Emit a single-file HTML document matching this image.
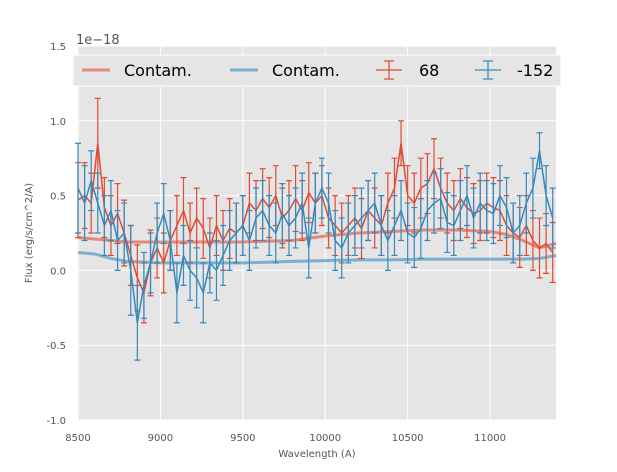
<!DOCTYPE html>
<html><head><meta charset="utf-8"><style>
body{margin:0;background:#fff;}
svg{font-family:"DejaVu Sans","Liberation Sans",sans-serif;}
</style></head><body>
<svg id="chart" width="617" height="467" viewBox="0 0 617 467">
<rect x="78" y="46" width="478" height="374" fill="#e5e5e5"/>
<g id="grid"></g>
<g id="contam"></g>
<g id="series"></g>
<g id="axes"></g>
<text x="76" y="44" font-size="13" fill="#555">1e−18</text>
<text x="317" y="457" font-size="10" fill="#555" text-anchor="middle">Wavelength (A)</text>
<text x="32" y="233" font-size="10" fill="#555" text-anchor="middle" transform="rotate(-90 32 233)">Flux (erg/s/cm^2/A)</text>
<g>
<rect x="73" y="55" width="488" height="31" fill="#e5e5e5" stroke="#fff" stroke-width="1"/>
<g><line x1="82" y1="70" x2="110" y2="70" stroke="#E24A33" stroke-opacity="0.6" stroke-width="3"/><text x="124" y="76" font-size="16" fill="#000">Contam.</text></g>
<g><line x1="230" y1="70" x2="258" y2="70" stroke="#348ABD" stroke-opacity="0.6" stroke-width="3"/><text x="272" y="76" font-size="16" fill="#000">Contam.</text></g>
<g stroke="#E24A33" stroke-width="1.2"><line x1="376" y1="70" x2="402" y2="70"/><line x1="389" y1="61" x2="389" y2="79"/><line x1="384" y1="61" x2="394" y2="61"/><line x1="384" y1="79" x2="394" y2="79"/></g>
<text x="419" y="76" font-size="16" fill="#000">68</text>
<g stroke="#348ABD" stroke-width="1.2"><line x1="475" y1="70" x2="501" y2="70"/><line x1="488" y1="61" x2="488" y2="79"/><line x1="483" y1="61" x2="493" y2="61"/><line x1="483" y1="79" x2="493" y2="79"/></g>
<text x="517" y="76" font-size="16" fill="#000">-152</text>
</g>
</svg>
<script>
const waves=[8500,8540,8580,8620,8660,8700,8740,8780,8820,8860,8900,8940,8980,9020,9060,9100,9140,9180,9220,9260,9300,9340,9380,9420,9460,9500,9540,9580,9620,9660,9700,9740,9780,9820,9860,9900,9940,9980,10020,10060,10100,10140,10180,10220,10260,10300,10340,10380,10420,10460,10500,10540,10580,10620,10660,10700,10740,10780,10820,10860,10900,10940,10980,11020,11060,11100,11140,11180,11220,11260,11300,11340,11380];
const redFlux=[.47,.50,.45,.85,.42,.30,.38,.25,.10,-.05,-.15,.05,.15,.05,.20,.30,.40,.25,.35,.28,.15,.30,.20,.28,.25,.30,.45,.40,.48,.42,.50,.35,.40,.48,.40,.52,.45,.50,.35,.30,.25,.30,.35,.28,.40,.35,.30,.45,.55,.85,.50,.45,.55,.58,.68,.55,.45,.40,.48,.42,.38,.40,.45,.42,.40,.30,.25,.22,.30,.20,.15,.18,.12];
const blueFlux=[.55,.45,.60,.45,.30,.40,.20,.25,.0,-.35,-.10,.05,.25,.38,.20,-.15,.10,.0,-.05,-.15,.05,.0,.10,.20,.25,.30,.20,.35,.40,.30,.25,.38,.30,.35,.45,.15,.45,.55,.45,.20,.15,.25,.30,.35,.40,.45,.30,.20,.30,.40,.25,.22,.28,.40,.45,.48,.32,.30,.40,.50,.35,.45,.40,.38,.50,.42,.25,.30,.45,.55,.80,.50,.35];
const redErr=[.25,.22,.2,.3,.2,.2,.2,.22,.2,.22,.2,.22,.2,.2,.2,.2,.22,.2,.2,.2,.2,.2,.2,.2,.2,.2,.2,.2,.2,.2,.2,.2,.2,.22,.2,.2,.2,.2,.2,.2,.2,.2,.2,.2,.2,.2,.2,.2,.2,.15,.2,.2,.2,.2,.2,.2,.2,.2,.2,.2,.2,.2,.2,.2,.2,.2,.2,.2,.2,.2,.2,.2,.2];
const blueErr=[.3,.25,.2,.2,.2,.2,.2,.2,.3,.25,.22,.2,.2,.2,.2,.2,.2,.2,.2,.2,.2,.2,.2,.2,.2,.2,.2,.2,.2,.2,.2,.2,.2,.2,.2,.2,.2,.2,.2,.2,.2,.2,.2,.2,.2,.2,.2,.2,.2,.2,.2,.2,.2,.2,.2,.2,.2,.2,.2,.2,.2,.2,.2,.2,.2,.2,.2,.2,.2,.2,.12,.2,.2];
const contamWaves=[8500,8600,8700,8800,9000,9500,9800,10000,10200,10400,10600,10800,11000,11100,11200,11300,11400];
const contamRed=[.22,.21,.20,.19,.19,.19,.20,.23,.25,.26,.27,.27,.26,.24,.20,.15,.18];
const contamBlue=[.12,.11,.08,.06,.05,.05,.06,.065,.07,.07,.075,.075,.075,.075,.075,.08,.10];
const xTicks=[8500,9000,9500,10000,10500,11000];
const yTicks=[-1.0,-0.5,0.0,0.5,1.0,1.5];
const X0=78,X1=556,Y0=420,Y1=46,WMIN=8500,WMAX=11400,VMIN=-1,VMAX=1.5;
const sx=w=>X0+(w-WMIN)/(WMAX-WMIN)*(X1-X0);
const sy=v=>Y0-(v-VMIN)/(VMAX-VMIN)*(Y0-Y1);
const NS="http://www.w3.org/2000/svg";
function mk(tag,attrs,parent){const e=document.createElementNS(NS,tag);for(const k in attrs)e.setAttribute(k,attrs[k]);parent.appendChild(e);return e;}
const grid=document.getElementById('grid'),axes=document.getElementById('axes');
xTicks.forEach(t=>{
  const l=mk('line',{x1:sx(t),x2:sx(t),y1:Y1,y2:Y0,stroke:'#fff','stroke-width':1},grid);
  
  
  const tx=mk('text',{x:sx(t),y:Y0+21,'font-size':10,fill:'#555','text-anchor':'middle'},axes);
  tx.textContent=t;
  
  
});
yTicks.forEach(t=>{
  const l=mk('line',{x1:X0,x2:X1,y1:sy(t),y2:sy(t),stroke:'#fff','stroke-width':1},grid);
  
  
  const tx=mk('text',{x:X0-12,y:sy(t)+4,'font-size':10,fill:'#555','text-anchor':'end'},axes);
  tx.textContent=t.toFixed(1);
  
  
});
const cg=document.getElementById('contam');
[[contamRed,'#E24A33','contam-red-line'],[contamBlue,'#348ABD','contam-blue-line']].forEach(([arr,c,n])=>{
  const p=mk('polyline',{points:contamWaves.map((w,i)=>sx(Math.min(w,WMAX))+','+sy(arr[i])).join(' '),fill:'none',stroke:c,'stroke-opacity':0.6,'stroke-width':3},cg);
  
  
});
const sg=document.getElementById('series');
[[redFlux,redErr,'#E24A33','series-68'],[blueFlux,blueErr,'#348ABD','series-minus152']].forEach(([f,e,c,n])=>{
  const g=mk('g',{stroke:c,'stroke-width':1.2,fill:'none'},sg);
  
  
  waves.forEach((w,i)=>{
    const x=sx(w),a=sy(f[i]+e[i]),b=sy(f[i]-e[i]);
    const eb=mk('path',{d:`M${x},${a}V${b}M${x-3},${a}H${x+3}M${x-3},${b}H${x+3}`},g);
    
    
  });
  const p=mk('polyline',{points:waves.map((w,i)=>sx(w)+','+sy(f[i])).join(' '),'stroke-width':1.5},g);
  
  
});
</script>
</body></html>
